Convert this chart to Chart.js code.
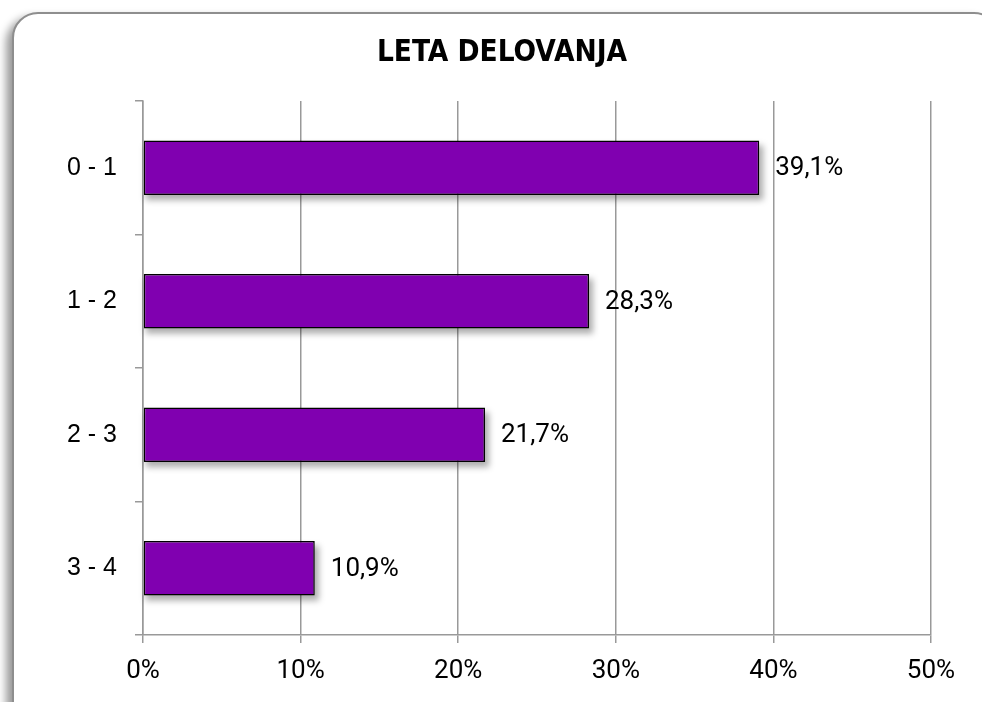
<!DOCTYPE html>
<html>
<head>
<meta charset="utf-8">
<title>Leta delovanja</title>
<script src="https://cdn.jsdelivr.net/npm/chart.js@4/dist/chart.umd.min.js"></script>
<style>
  html, body { margin: 0; padding: 0; background: #fff; overflow: hidden; }
  #wrap { position: relative; width: 982px; height: 702px; }
  #frame {
    position: absolute; left: 12px; top: 12px; width: 984px; height: 720px;
    border: 2px solid #8e8e8e; border-radius: 26px; background: #fff;
    box-shadow: -6px 5px 8px rgba(0,0,0,0.4);
  }
  #chart { position: absolute; left: 0; top: 0; }
</style>
</head>
<body>
<div id="wrap">
  <div id="frame"></div>
  <canvas id="chart" width="982" height="702"></canvas>
</div>
<script>
// Years of operation (categories) and share of respondents (%)
const categories = ['0 - 1', '1 - 2', '2 - 3', '3 - 4'];
const shares = [39.1, 28.3, 21.7, 10.9];
const xTicks = [0, 10, 20, 30, 40, 50];
const chartTitle = 'LETA DELOVANJA';

const gridGray = '#999999';
const valueFont = 'Roboto, "DejaVu Sans Condensed", sans-serif';

function fmtPct(v) {
  return v.toFixed(1).replace('.', ',') + '%';
}

// Title, soft drop shadows under the bars, and value labels after the bars
const barDecor = {
  id: 'barDecor',
  afterDraw(chart) {
    const ctx = chart.ctx;
    ctx.save();
    ctx.fillStyle = '#000';
    ctx.font = 'bold 29.5px "DejaVu Sans Condensed", "DejaVu Sans", sans-serif';
    ctx.textAlign = 'center';
    ctx.textBaseline = 'middle';
    ctx.fillText(chartTitle, 502, 53);
    ctx.restore();
  },
  beforeDatasetsDraw(chart) {
    const ctx = chart.ctx;
    const meta = chart.getDatasetMeta(0);
    ctx.save();
    ctx.filter = 'blur(3px)';
    ctx.fillStyle = 'rgba(0,0,0,0.32)';
    meta.data.forEach(bar => {
      const h = bar.height;
      ctx.fillRect(bar.base + 2, bar.y - h / 2 + 5, bar.x - bar.base + 2, h);
    });
    ctx.restore();
  },
  afterDatasetsDraw(chart) {
    const ctx = chart.ctx;
    const meta = chart.getDatasetMeta(0);
    ctx.save();
    ctx.fillStyle = '#000';
    ctx.font = '26px ' + valueFont;
    ctx.textAlign = 'left';
    ctx.textBaseline = 'middle';
    meta.data.forEach((bar, i) => {
      ctx.fillText(fmtPct(shares[i]), bar.x + 16, bar.y + 1);
    });
    ctx.restore();
  }
};

new Chart(document.getElementById('chart'), {
  type: 'bar',
  data: {
    labels: categories,
    datasets: [{
      data: shares,
      backgroundColor: '#8000b0',
      borderColor: '#000000',
      borderWidth: 1.5,
      borderSkipped: false,
      barPercentage: 0.82,
      categoryPercentage: 0.5
    }]
  },
  options: {
    indexAxis: 'y',
    responsive: false,
    animation: false,
    layout: { padding: { left: 0, right: 51, top: 101, bottom: 0 } },
    plugins: {
      legend: { display: false },
      tooltip: { enabled: false },
      title: { display: false }
    },
    scales: {
      x: {
        type: 'linear',
        min: 0,
        max: 50,
        afterBuildTicks(scale) { scale.ticks = xTicks.map(v => ({ value: v })); },
        afterFit(scale) { scale.height = 67; },
        grid: { color: gridGray, lineWidth: 1.5, tickLength: 8, drawOnChartArea: true },
        border: { color: gridGray, width: 1.5 },
        ticks: {
          color: '#000',
          padding: 13,
          font: { family: valueFont, size: 26 },
          callback: v => v + '%'
        }
      },
      y: {
        type: 'category',
        afterFit(scale) { scale.width = 143; },
        grid: { offset: true, drawOnChartArea: false, color: gridGray, lineWidth: 1.5, tickLength: 8 },
        border: { color: gridGray, width: 1.5 },
        ticks: {
          color: '#000',
          padding: 18,
          font: { family: '"Liberation Sans", Arial, sans-serif', size: 25 }
        }
      }
    }
  },
  plugins: [barDecor]
});
</script>
</body>
</html>
